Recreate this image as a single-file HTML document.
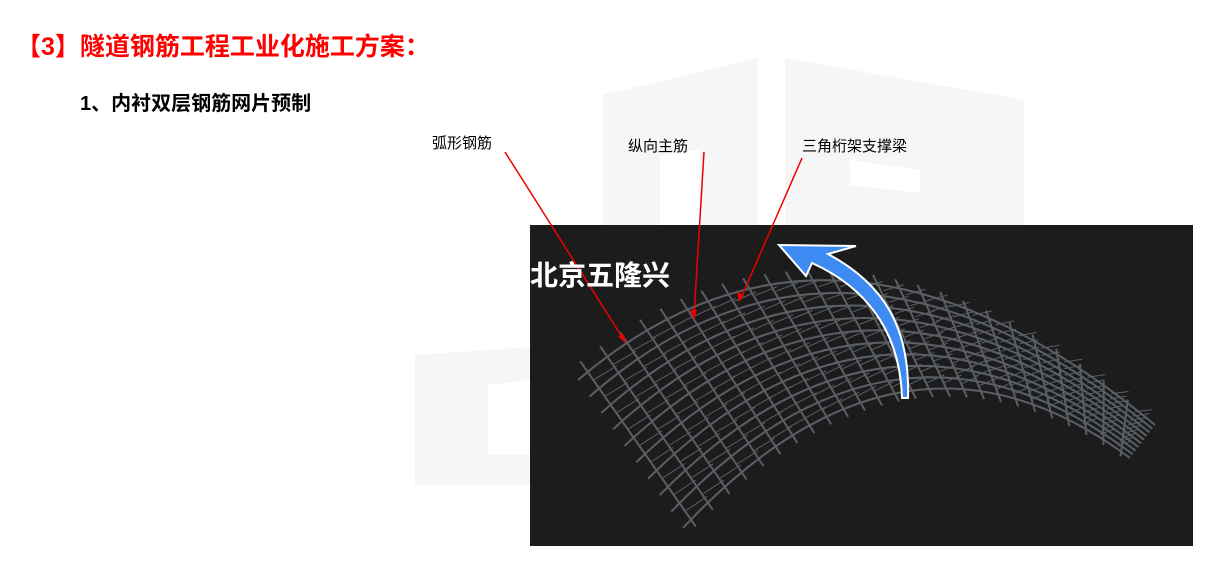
<!DOCTYPE html>
<html><head><meta charset="utf-8"><style>
body{margin:0;width:1207px;height:566px;background:#fff;position:relative;overflow:hidden;font-family:"Liberation Sans","Noto Sans CJK SC",sans-serif}
.t{position:absolute;white-space:nowrap}
</style></head><body>
<svg width="1207" height="566" style="position:absolute;left:0;top:0">
<g fill="#f6f6f6">
<polygon points="603,95 758,58 758,225 603,225"/>
<polygon points="785,58 1024,100 1024,225 785,225"/>
<polygon points="415,355 530,347 530,485 415,485"/>
</g>
<g fill="#fff">
<polygon points="660,155 700,150 700,225 660,225"/>
<polygon points="850,160 920,170 920,193 850,185"/>
<polygon points="488,385 530,380 530,455 488,455"/>
</g>
<rect x="530" y="225" width="663" height="321" fill="#1c1c1c"/>
<g id="mesh" stroke="#5a5f66" stroke-width="2" fill="none"></g>
<path d="M902,398 C900,330 865,287 812,263 L806,276 L779,245 L856,246 L828,254 C886,285 910,330 908,398 Z" fill="#3d8bf2" stroke="#fff" stroke-width="2"/>
<g stroke="#e00" stroke-width="1.5" fill="#e00">
<line x1="505" y1="152" x2="624" y2="340"/><polygon points="626,344 618,336 624,334" stroke="none"/>
<line x1="704" y1="152" x2="694" y2="316"/><polygon points="694,320 690,310 697,310" stroke="none"/>
<line x1="802" y1="158" x2="741" y2="298"/><polygon points="739,302 737,292 744,295" stroke="none"/>
</g>
</svg>
<script>
(function(){var g=document.getElementById('mesh'),s='';
function q(a,b,c,t){var u=1-t;return[u*u*a[0]+2*u*t*b[0]+t*t*c[0],u*u*a[1]+2*u*t*b[1]+t*t*c[1]];}
var T=[[578,380],[835,160],[1155,425]],B=[[683,528],[905,290],[1130,458]];
function arc(k){var r=[];for(var j=0;j<3;j++)r.push([T[j][0]+(B[j][0]-T[j][0])*k,T[j][1]+(B[j][1]-T[j][1])*k]);return r;}
for(var i=0;i<10;i++){var a=arc(i/9);s+='<path d="M'+a[0]+' Q'+a[1]+' '+a[2]+'"/>';}
for(var n=0;n<26;n++){var t=n/25*0.95+0.02,p=q(T[0],T[1],T[2],t),r=q(B[0],B[1],B[2],t);
s+='<line x1="'+(p[0]-8)+'" y1="'+(p[1]-10)+'" x2="'+(r[0]+4)+'" y2="'+(r[1]+8)+'"/>';
for(var m=0;m<9;m++){var k=(m+0.5)/9,a=arc(k),b=arc(k+0.06),x=q(a[0],a[1],a[2],t),y=q(b[0],b[1],b[2],t+0.02);
s+='<line stroke-width="1" x1="'+x[0]+'" y1="'+x[1]+'" x2="'+(y[0]+6)+'" y2="'+(y[1]-14)+'"/>';}}
g.innerHTML=s;})();
</script>
<div class="t" style="left:16px;top:27px;font-size:25px;font-weight:bold;color:#f00">【3】隧道钢筋工程工业化施工方案：</div>
<div class="t" style="left:80px;top:87px;font-size:20px;font-weight:bold;color:#000">1、内衬双层钢筋网片预制</div>
<div class="t" style="left:432px;top:132px;font-size:15px">弧形钢筋</div>
<div class="t" style="left:628px;top:135px;font-size:15px">纵向主筋</div>
<div class="t" style="left:802px;top:135px;font-size:15px">三角桁架支撑梁</div>
<div class="t" style="left:530px;top:254px;font-size:28px;font-weight:bold;color:#fff">北京五隆兴</div>
</body></html>
